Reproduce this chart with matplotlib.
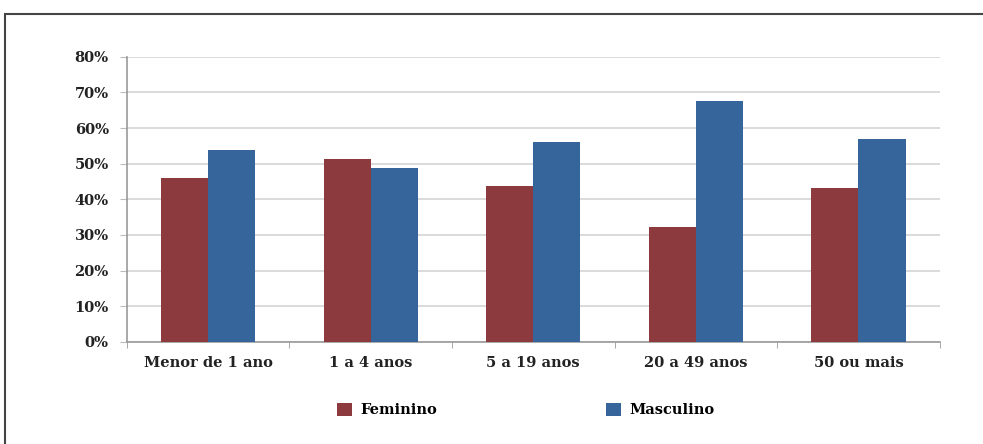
import numpy as np
import matplotlib.pyplot as plt
from matplotlib.patches import Rectangle

categorias = ["Menor de 1 ano", "1 a 4 anos", "5 a 19 anos", "20 a 49 anos", "50 ou mais"]
feminino = [46.1, 51.2, 43.8, 32.3, 43.2]
masculino = [53.9, 48.8, 56.2, 67.7, 56.8]

cor_fem = "#8C3A3D"
cor_mas = "#35659A"

plt.rcParams['font.family'] = ['DejaVu Serif']
plt.rcParams['font.weight'] = 'bold'

fig = plt.figure(figsize=(9.83, 4.44), dpi=100)
ax = fig.add_axes([0.129, 0.23, 0.827, 0.642])

x = np.arange(len(categorias))
w = 0.29
ax.bar(x - w/2, feminino, w, color=cor_fem, label="Feminino", zorder=3)
ax.bar(x + w/2, masculino, w, color=cor_mas, label="Masculino", zorder=3)

ax.set_xlim(-0.5, len(categorias) - 0.5)
ax.set_ylim(0, 80)
ax.set_yticks(np.arange(0, 81, 10))
ax.set_yticklabels([f"{v}%" for v in range(0, 81, 10)], fontsize=10.5, fontweight='bold', color="#222222")
ax.yaxis.grid(True, color="#d4d4d4", linewidth=1.2, zorder=0)

ax.set_xticks(x)
ax.set_xticklabels(categorias, fontsize=10.5, fontweight='bold', color="#222222")
ax.tick_params(axis='x', length=0, pad=10)
ax.set_xticks(np.arange(-0.5, len(categorias) + 0.5, 1), minor=True)
ax.tick_params(axis='x', which='minor', length=4, color="#999999", direction='out')
ax.tick_params(axis='y', length=5, color="#bbbbbb", pad=8)

for s in ['top', 'right']:
    ax.spines[s].set_visible(False)
ax.spines['left'].set_color("#999999")
ax.spines['left'].set_linewidth(1.2)
ax.spines['bottom'].set_color("#999999")
ax.spines['bottom'].set_linewidth(1.2)

fig.legend(loc='center', bbox_to_anchor=(0.535, 0.077), ncol=2, frameon=False,
           handlelength=1.0, handleheight=1.0, columnspacing=11.6,
           handletextpad=0.6, prop={'weight': 'bold', 'size': 10.5})

top = 1 - 14/444
fig.patches.append(Rectangle((5/983, -0.2), 1.2, top + 0.2, transform=fig.transFigure,
                             fill=False, edgecolor="#444444", linewidth=1.5))

fig.savefig("out.png", dpi=100)
